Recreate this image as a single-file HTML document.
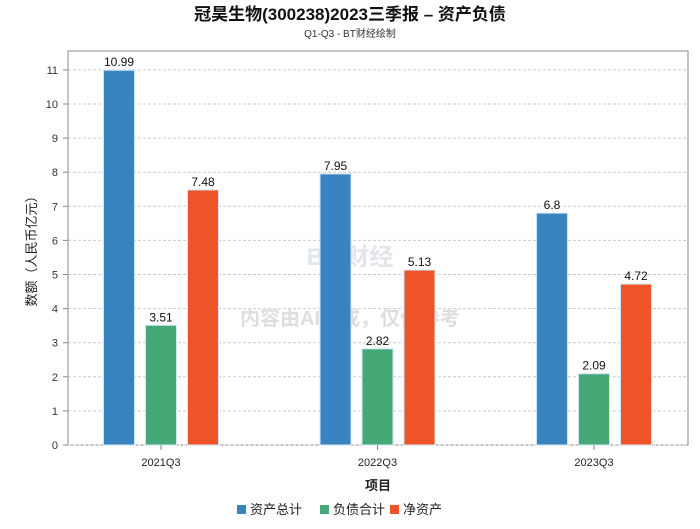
<!DOCTYPE html>
<html><head><meta charset="utf-8"><style>
body{margin:0;background:#fff;font-family:"Liberation Sans","Noto Sans CJK SC",sans-serif;}
</style></head><body>
<svg id="c" width="700" height="524" xmlns="http://www.w3.org/2000/svg" font-family="Liberation Sans, Noto Sans CJK SC, sans-serif">
<text x="350" y="20" text-anchor="middle" font-size="17" font-weight="bold" fill="#111">冠昊生物(300238)2023三季报 – 资产负债</text>
<text x="350" y="37" text-anchor="middle" font-size="10" fill="#333">Q1-Q3 - BT财经绘制</text>
<rect x="68" y="51" width="620" height="394" fill="#fff" stroke="#888"/>
<g id="grid"></g>
<text x="350" y="265" text-anchor="middle" font-size="24" font-weight="bold" fill="#e2e6ec">BT 财经</text>
<text x="350" y="325" text-anchor="middle" font-size="20" font-weight="bold" fill="#dedede">内容由AI生成，仅供参考</text>
<g id="bars"></g>
<text x="36" y="248" text-anchor="middle" font-size="13" fill="#222" transform="rotate(-90 36 248)">数额（人民币亿元）</text>
<text x="378" y="490" text-anchor="middle" font-size="13" font-weight="bold" fill="#222">项目</text>
<g id="legend"></g>
</svg>
<script>
const categories=["2021Q3","2022Q3","2023Q3"];
const seriesNames=["资产总计","负债合计","净资产"];
const colors=["#3a83c1","#45a977","#ef5428"];
const assets=[10.99,7.95,6.8];
const debts=[3.51,2.82,2.09];
const equity=[7.48,5.13,4.72];
const yTicks=[0,1,2,3,4,5,6,7,8,9,10,11];
const series=[assets,debts,equity];
const NS="http://www.w3.org/2000/svg";
const y0=445,unit=34.1;
const yScale=v=>y0-v*unit;
const xCenter=i=>161+i*216.5;
function mk(tag,attrs,parent,text){const e=document.createElementNS(NS,tag);for(const k in attrs)e.setAttribute(k,attrs[k]);if(text!==undefined)e.textContent=text;parent.appendChild(e);return e;}
const grid=document.getElementById('grid');
yTicks.forEach(t=>{const y=yScale(t);
 const l=mk('line',{x1:68,x2:688,y1:y,y2:y,stroke:'#ccc','stroke-dasharray':'3,2'},grid);
 
 
 mk('line',{x1:63,x2:68,y1:y,y2:y,stroke:'#888'},grid);
 const tx=mk('text',{x:58,y:y+4,'text-anchor':'end','font-size':11,fill:'#333'},grid,t);
 
 
});
const bars=document.getElementById('bars');
const bw=31,step=42;
categories.forEach((c,i)=>{
 const cx=xCenter(i);
 series.forEach((s,j)=>{
  const x=cx-bw/2+(j-1)*step;const y=yScale(s[i]);
  const r=mk('rect',{x:x,y:y,width:bw,height:y0-y,fill:colors[j],stroke:'#cfe6f7','stroke-width':1},bars);
  
  
  const t=mk('text',{x:x+bw/2,y:y-4,'text-anchor':'middle','font-size':12,fill:'#111'},bars,s[i]);
  
  
 });
 mk('line',{x1:cx,x2:cx,y1:445,y2:450,stroke:'#888'},bars);
 const xl=mk('text',{x:cx,y:466,'text-anchor':'middle','font-size':11,fill:'#222'},bars,c);
 
 
});
const lg=document.getElementById('legend');
const lx=[237,320,390];
seriesNames.forEach((n,j)=>{
 const g=mk('g',{},lg);
 
 
 mk('rect',{x:lx[j],y:505,width:9,height:9,fill:colors[j]},g);
 mk('text',{x:lx[j]+13,y:514,'font-size':13,fill:'#222'},g,n);
});
</script>
</body></html>
